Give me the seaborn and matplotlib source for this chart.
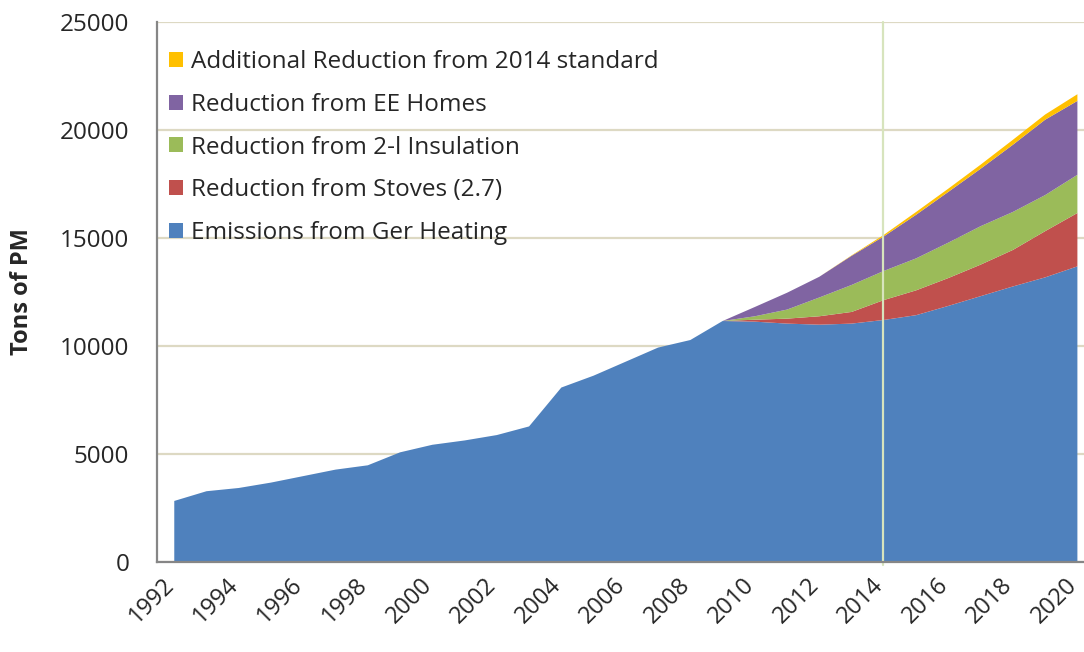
import matplotlib
matplotlib.use("Agg")
import matplotlib.pyplot as plt
import matplotlib.transforms as mtransforms
from matplotlib.patches import Patch
from matplotlib.ticker import FixedLocator
import seaborn as sns

# ---- data ----
years = list(range(1992, 2021))

ger_heating = [2850, 3300, 3450, 3700, 4000, 4300, 4500, 5100, 5450, 5650,
               5900, 6300, 8100, 8650, 9300, 9950, 10300, 11180, 11150, 11060,
               11010, 11060, 11230, 11450, 11880, 12330, 12780, 13200, 13710]
stoves = [0, 0, 0, 0, 0, 0, 0, 0, 0, 0,
          0, 0, 0, 0, 0, 0, 0, 0, 90, 230,
          390, 540, 920, 1150, 1290, 1460, 1690, 2140, 2470]
insulation = [0, 0, 0, 0, 0, 0, 0, 0, 0, 0,
              0, 0, 0, 0, 0, 0, 0, 0, 160, 420,
              870, 1250, 1350, 1480, 1640, 1780, 1760, 1670, 1770]
ee_homes = [0, 0, 0, 0, 0, 0, 0, 0, 0, 0,
            0, 0, 0, 0, 0, 0, 0, 0, 430, 780,
            960, 1350, 1600, 2020, 2350, 2660, 3110, 3490, 3420]
standard_2014 = [0, 0, 0, 0, 0, 0, 0, 0, 0, 0,
                 0, 0, 0, 0, 0, 0, 0, 0, 0, 0,
                 0, 20, 70, 130, 150, 190, 230, 240, 310]

series_labels = ["Emissions from Ger Heating", "Reduction from Stoves (2.7)",
                 "Reduction from 2-l Insulation", "Reduction from EE Homes",
                 "Additional Reduction from 2014 standard"]
series_colors = ["#4F81BD", "#C0504D", "#9BBB59", "#8064A2", "#FFC000"]

year_labels = list(range(1992, 2021, 2))
y_ticks = [0, 5000, 10000, 15000, 20000, 25000]
marker_year = 2014

# ---- style ----
sns.set_style("white")
plt.rcParams['font.family'] = ['Open Sans', 'DejaVu Sans']

axis_grey = "#868686"
grid_col = "#DDD9C3"

fig = plt.figure(figsize=(10.84, 6.52), dpi=100)
ax = fig.add_axes([157 / 1084, 1 - 562 / 652, (1084 - 157) / 1084, (562 - 22) / 652])

ax.stackplot(years, ger_heating, stoves, insulation, ee_homes, standard_2014,
             colors=series_colors, labels=series_labels, linewidth=0)

ax.set_xlim(1991.48, 2020.22)
ax.set_ylim(0, 25000)

# grid + marker line
ax.set_yticks(y_ticks)
ax.yaxis.grid(True, color=grid_col, linewidth=1.6)
ax.xaxis.grid(False)
ax.set_axisbelow(True)
ax.axvline(marker_year, color="#D7E4BD", linewidth=1.6, ymin=-0.006, ymax=1,
           clip_on=False, zorder=5)

# spines
sns.despine(ax=ax, top=True, right=True)
for side in ["left", "bottom"]:
    ax.spines[side].set_color(axis_grey)
    ax.spines[side].set_linewidth(1.6)
    ax.spines[side].set_zorder(6)

# ticks
ax.xaxis.set_major_locator(FixedLocator(year_labels))
ax.xaxis.set_minor_locator(FixedLocator([y + 0.5 for y in years[:-1]]))
ax.set_xticklabels([str(y) for y in year_labels], rotation=45, ha="right",
                   va="center", rotation_mode="anchor")
ax.tick_params(axis="x", which="major", length=0, pad=14, labelsize=17)
ax.tick_params(axis="x", which="minor", length=6, width=1.5, color=axis_grey,
               direction="out")
ax.tick_params(axis="y", length=6, width=1.5, color=axis_grey, direction="out",
               pad=14, labelsize=17.5)
ax.set_yticklabels([str(v) for v in y_ticks])

# pull the slanted year labels in a touch so "2020" stays inside the figure
shift = mtransforms.ScaledTranslation(-2.5 / 72, 0, fig.dpi_scale_trans)
for lbl in ax.get_xticklabels():
    lbl.set_transform(lbl.get_transform() + shift)

ax.set_ylabel("Tons of PM", fontsize=17, fontweight="bold")
ax.yaxis.set_label_coords(-0.133, 0.5)

# legend, top entry first
handles = [Patch(facecolor=c, edgecolor="none") for c in series_colors][::-1]
ax.legend(handles, series_labels[::-1], loc="upper left",
          bbox_to_anchor=(0.013, 0.948), frameon=False, fontsize=17.5,
          handlelength=0.58, handleheight=0.58, handletextpad=0.33,
          labelspacing=0.77, borderpad=0, borderaxespad=0)

fig.savefig("out.png", dpi=100)
